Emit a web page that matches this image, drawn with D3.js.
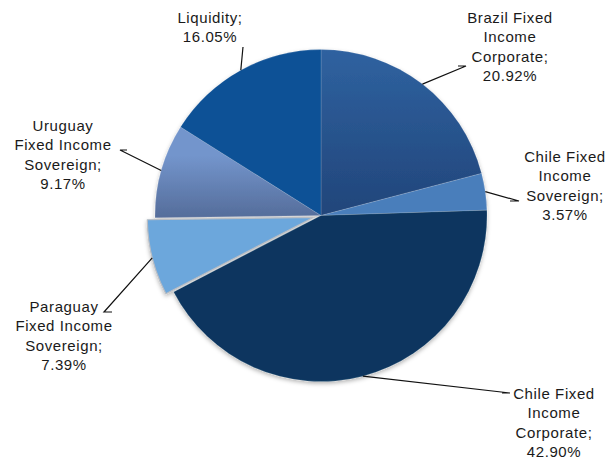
<!DOCTYPE html>
<html>
<head>
<meta charset="utf-8">
<script src="https://cdn.jsdelivr.net/npm/d3@7/dist/d3.min.js"></script>
<style>
  html, body { margin: 0; padding: 0; background: #fff; }
  svg { display: block; }
</style>
</head>
<body>
<svg id="chart" width="609" height="460"></svg>
<script>
/// data ///
const categories = [
  "Brazil Fixed Income Corporate",
  "Chile Fixed Income Sovereign",
  "Chile Fixed Income Corporate",
  "Paraguay Fixed Income Sovereign",
  "Uruguay Fixed Income Sovereign",
  "Liquidity"
];
const values = [20.92, 3.57, 42.90, 7.39, 9.17, 16.05];
// how the label text is broken into lines
const labelLines = [
  ["Brazil Fixed", "Income", "Corporate;"],
  ["Chile Fixed", "Income", "Sovereign;"],
  ["Chile Fixed", "Income", "Corporate;"],
  ["Paraguay", "Fixed Income", "Sovereign;"],
  ["Uruguay", "Fixed Income", "Sovereign;"],
  ["Liquidity;"]
];

/// constants ///
const width = 609, height = 460;
const cx = 321, cy = 215.5, radius = 166;
const explodeIndex = 3, explodeDist = 8;
const lineHeight = 19.3;
const fills = ["url(#gradBrazil)", "#4A7EBB", "#09365F", "#6CA7DC", "url(#gradUruguay)", "#0E5196"];
// label anchors: text centre x, first baseline y, elbow of leader line
const labelPos = [
  { x: 510, y: 23,  ex: 466, ey: 66,  hx: 458 },
  { x: 565, y: 162, ex: 519, ey: 201, hx: 510 },
  { x: 554, y: 399, ex: 510, ey: 393, hx: 502 },
  { x: 64,  y: 312, ex: 104, ey: 312, hx: 112 },
  { x: 63,  y: 131, ex: 120, ey: 150, hx: 127 },
  { x: 210, y: 23,  ex: 243, ey: 47,  hx: 243 }
];

const svg = d3.select("#chart");
const defs = svg.append("defs");

// vertical gradients, in the pie group's own coordinates (centre = 0,0)
const addGrad = (id, y1, y2, top, bottom) => {
  const g = defs.append("linearGradient").attr("id", id)
    .attr("gradientUnits", "userSpaceOnUse")
    .attr("x1", 0).attr("y1", y1).attr("x2", 0).attr("y2", y2);
  g.append("stop").attr("offset", "0%").attr("stop-color", top);
  g.append("stop").attr("offset", "100%").attr("stop-color", bottom);
};
addGrad("gradBrazil", -radius, 0, "#2F62A0", "#21457A");
addGrad("gradUruguay", -60, 0, "#7395CC", "#566E9C");

// soft shadow under the pie
const filter = defs.append("filter").attr("id", "shadow")
  .attr("x", "-10%").attr("y", "-10%").attr("width", "120%").attr("height", "120%");
filter.append("feDropShadow")
  .attr("dx", 0).attr("dy", 2).attr("stdDeviation", 2)
  .attr("flood-color", "#000").attr("flood-opacity", 0.3);

/// pie ///
const pie = d3.pie().sort(null).value(d => d)
  .startAngle(0).endAngle(2 * Math.PI);
const arcs = pie(values);
const arc = d3.arc().innerRadius(0).outerRadius(radius);

const offset = d => {
  if (d.index !== explodeIndex) return [0, 0];
  const a = (d.startAngle + d.endAngle) / 2;
  return [Math.sin(a) * explodeDist, -Math.cos(a) * explodeDist];
};

const g = svg.append("g")
  .attr("transform", `translate(${cx},${cy})`)
  .attr("filter", "url(#shadow)");

g.selectAll(".slice")
  .data(arcs)
  .join("path")
  .classed("slice", true)
  .attr("transform", d => `translate(${offset(d)})`)
  .attr("d", arc)
  .attr("fill", (d, i) => fills[i])
  .attr("stroke", d => d.index === explodeIndex ? "#B8BDC4" : "rgba(255,255,255,0.25)")
  .attr("stroke-width", d => d.index === explodeIndex ? 1.2 : 0.6)
  .attr("stroke-linejoin", "round");

/// leader lines ///
const lines = svg.append("g");
arcs.forEach((d, i) => {
  const a = (d.startAngle + d.endAngle) / 2;
  const [ox, oy] = offset(d);
  const sx = cx + ox + Math.sin(a) * radius;
  const sy = cy + oy - Math.cos(a) * radius;
  const p = labelPos[i];
  lines.append("polyline")
    .attr("points", `${sx},${sy} ${p.ex},${p.ey} ${p.hx},${p.ey}`)
    .attr("fill", "none")
    .attr("stroke", "#111")
    .attr("stroke-width", 1.2);
});

/// labels ///
const labels = svg.append("g")
  .attr("font-family", "'Liberation Sans', Arial, sans-serif")
  .attr("font-size", "15px")
  .attr("letter-spacing", "0.6px")
  .attr("fill", "#1a1a1a")
  .attr("text-anchor", "middle");

arcs.forEach((d, i) => {
  const p = labelPos[i];
  const txt = labels.append("text").attr("x", p.x).attr("y", p.y);
  const all = labelLines[i].concat([values[i].toFixed(2) + "%"]);
  all.forEach((s, k) => {
    txt.append("tspan").attr("x", p.x).attr("y", p.y + k * lineHeight).text(s);
  });
});
</script>
</body>
</html>
